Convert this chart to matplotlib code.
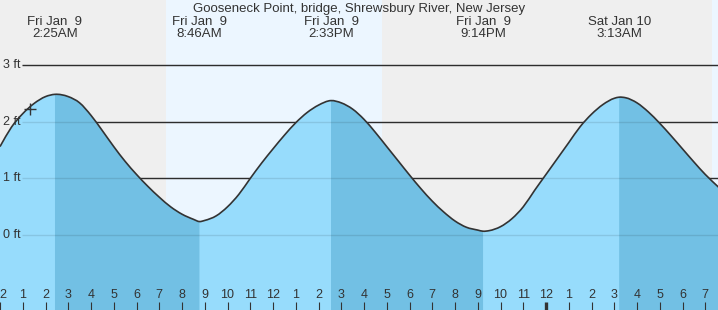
import numpy as np
import matplotlib as mpl
import matplotlib.pyplot as plt
from matplotlib.path import Path
from matplotlib.patches import PathPatch

mpl.rcParams['font.family'] = ['Liberation Sans', 'DejaVu Sans']

# tide heights (ft), hours counted from midnight Fri Jan 9
hours = [0.0, 0.5, 1.0, 1.5, 2.0,
         2.417,
         3.0, 3.5, 4.0, 4.5, 5.0, 5.5, 6.0, 6.5, 7.0, 7.5, 8.0, 8.5,
         8.767,
         9.0, 9.5, 10.0, 10.5, 11.0, 11.5, 12.0, 12.5, 13.0, 13.5, 14.0,
         14.55,
         15.0, 15.5, 16.0, 16.5, 17.0, 17.5, 18.0, 18.5, 19.0, 19.5, 20.0, 20.5, 21.0,
         21.233,
         21.5, 22.0, 22.5, 23.0, 23.5, 24.0, 24.5, 25.0, 25.5, 26.0, 26.5, 27.0,
         27.217,
         27.5, 28.0, 28.5, 29.0, 29.5, 30.0, 30.5, 31.0, 31.6]
heights = [1.56, 1.90, 2.14, 2.32, 2.44,
           2.48,
           2.44, 2.33, 2.11, 1.84, 1.56, 1.30, 1.07, 0.86, 0.67, 0.50, 0.37, 0.28,
           0.24,
           0.26, 0.34, 0.50, 0.72, 1.00, 1.27, 1.52, 1.76, 1.98, 2.16, 2.29,
           2.37,
           2.33, 2.22, 2.04, 1.81, 1.56, 1.31, 1.06, 0.82, 0.60, 0.41, 0.25, 0.14, 0.09,
           0.07,
           0.08, 0.15, 0.29, 0.50, 0.79, 1.07, 1.35, 1.63, 1.91, 2.13, 2.30, 2.41,
           2.43,
           2.42, 2.33, 2.17, 1.97, 1.75, 1.52, 1.29, 1.07, 0.84]

# high / low tides
extreme_hours = [2.417, 8.767, 14.55, 21.233, 27.217]
extreme_days = ['Fri Jan  9', 'Fri Jan  9', 'Fri Jan  9', 'Fri Jan  9', 'Sat Jan 10']
extreme_times = ['2:25AM', '8:46AM', '2:33PM', '9:14PM', '3:13AM']

# daylight (sunrise, sunset)
daylight = [(7.3, 16.8), (31.3, 32.0)]

# current time marker
now_hour = 1.32
now_height = 2.23

tick_hours = list(range(0, 32))
tick_labels = ['12', '1', '2', '3', '4', '5', '6', '7', '8', '9', '10', '11',
               '12', '1', '2', '3', '4', '5', '6', '7', '8', '9', '10', '11',
               '12', '1', '2', '3', '4', '5', '6', '7']

ft_levels = [0, 1, 2, 3]
ft_labels = ['0 ft', '1 ft', '2 ft', '3 ft']

title = 'Gooseneck Point, bridge, Shrewsbury River, New Jersey'

NIGHT = '#efefef'
DAY = '#ecf6ff'
FLOOD = '#97dcfc'
EBB = '#72c0e4'
INK = '#333333'
W, H = 718, 310
XMAX = W / 22.75
YMIN, YMAX = -1.317, 4.141

t = np.array(hours)
h = np.array(heights)

# slopes for a smooth (hermite / bezier) curve through the read points
slope = np.gradient(h, t)


def curve(i0, i1):
    verts = [(t[i0], h[i0])]
    codes = [Path.MOVETO]
    for i in range(i0, i1):
        dx = (t[i + 1] - t[i]) / 3
        verts += [(t[i] + dx, h[i] + slope[i] * dx),
                  (t[i + 1] - dx, h[i + 1] - slope[i + 1] * dx),
                  (t[i + 1], h[i + 1])]
        codes += [Path.CURVE4] * 3
    return verts, codes


def area(i0, i1, color):
    verts, codes = curve(i0, i1)
    verts += [(t[i1], YMIN), (t[i0], YMIN), (t[i0], YMIN)]
    codes += [Path.LINETO, Path.LINETO, Path.CLOSEPOLY]
    ax.add_patch(PathPatch(Path(verts, codes), facecolor=color, lw=0, zorder=2))


fig = plt.figure(figsize=(W / 100, H / 100), dpi=100)
ax = fig.add_axes([0, 0, 1, 1])
ax.set_facecolor(NIGHT)
for a, b in daylight:
    ax.axvspan(a, b, color=DAY, lw=0, zorder=0)

# grid lines, dark above the water, faint through it
x0 = 22 / 22.75
ax.hlines(ft_levels[1:], x0, XMAX, color=INK, lw=1.0, zorder=1)
ax.hlines(ft_levels, x0, XMAX, color='black', lw=1.0, alpha=0.1, zorder=3)

# flood in light blue everywhere, ebb shaded darker
idx = [int(np.argmin(np.abs(t - e))) for e in extreme_hours] + [len(t) - 1]
area(0, len(t) - 1, FLOOD)
for k in range(0, len(idx) - 1, 2):
    area(idx[k], idx[k + 1], EBB)

verts, codes = curve(0, len(t) - 1)
ax.add_patch(PathPatch(Path(verts, codes), facecolor='none', edgecolor=INK,
                       lw=1.2, zorder=4))
ax.plot([now_hour], [now_height], marker='+', ms=9, mew=1.0, color=INK, zorder=5)

for lvl, lab in zip(ft_levels, ft_labels):
    ax.text(3 / W, lvl, lab, transform=ax.get_yaxis_transform(),
            ha='left', va='center', fontsize=9, color=INK, zorder=6)

ax.text(0.5, 1 - 9 / H, title, transform=ax.transAxes,
        ha='center', va='center', fontsize=9.5, color=INK)
for x, d, tm in zip(extreme_hours, extreme_days, extreme_times):
    ax.text(x, 1 - 22 / H, d, transform=ax.get_xaxis_transform(),
            ha='center', va='center', fontsize=9.5, color=INK)
    ax.text(x, 1 - 34 / H, tm, transform=ax.get_xaxis_transform(),
            ha='center', va='center', fontsize=9.5, color=INK)

ax.set_xlim(0, XMAX)
ax.set_ylim(YMIN, YMAX)
ax.set_xticks(tick_hours)
ax.set_xticklabels(tick_labels)
ax.set_yticks([])
ax.tick_params(axis='x', direction='in', length=6, width=0.8, color=INK,
               labelcolor=INK, labelsize=9, pad=-15)
ax.xaxis.set_zorder(10)
# midnight gets a heavier tick
ax.xaxis.get_major_ticks()[24].tick1line.set_markeredgewidth(2.4)
for s in ax.spines.values():
    s.set_visible(False)

fig.savefig('out.png', dpi=100)
